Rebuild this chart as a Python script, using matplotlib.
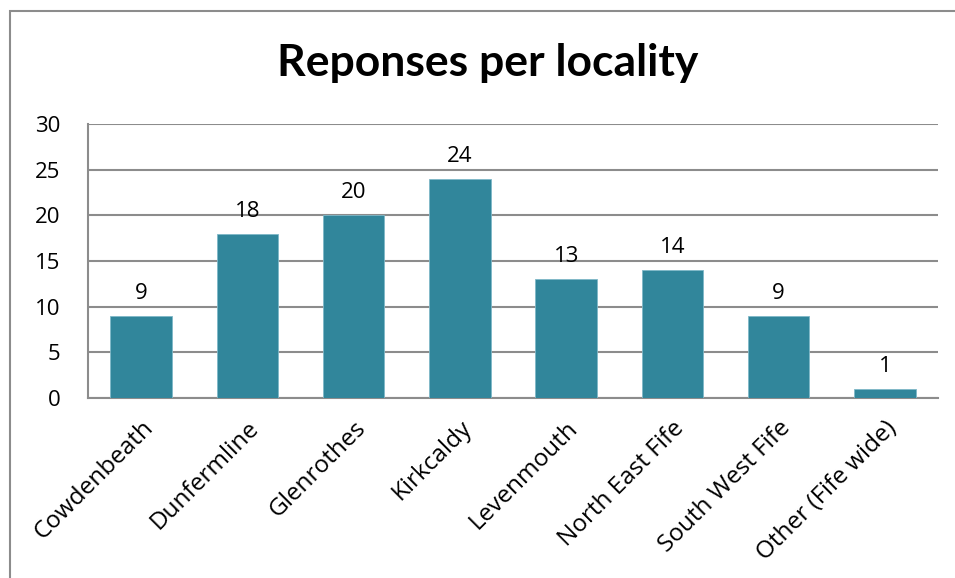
import matplotlib.pyplot as plt
from matplotlib.patches import Rectangle

plt.rcParams['font.family'] = ['Open Sans', 'DejaVu Sans']

localities = ["Cowdenbeath", "Dunfermline", "Glenrothes", "Kirkcaldy",
              "Levenmouth", "North East Fife", "South West Fife", "Other (Fife wide)"]
responses = [9, 18, 20, 24, 13, 14, 9, 1]
yticks = [0, 5, 10, 15, 20, 25, 30]

W, H = 955, 578
fig = plt.figure(figsize=(W / 100, H / 100), dpi=100)

# outer chart border (cut off at right/bottom like the screenshot)
fig.patches.append(Rectangle((10 / W, -0.05), 1.1, 1 - 11 / H + 0.05,
                             transform=fig.transFigure, fill=False,
                             edgecolor="#8c8c8c", linewidth=1.5))

ax = fig.add_axes([88 / W, 1 - 398 / H, (938 - 88) / W, (398 - 124) / H])
x = range(len(localities))
bars = ax.bar(x, responses, width=0.58, color="#31869b",
              edgecolor="#7fb8c8", linewidth=0.6, zorder=3)

for xi, v in zip(x, responses):
    ax.text(xi, v + 1.3, str(v), ha="center", va="bottom", fontsize=16)

ax.set_xlim(-0.5, len(localities) - 0.5)
ax.set_ylim(0, 30)
ax.set_yticks(yticks)
ax.set_yticklabels([str(t) for t in yticks], fontsize=16)
ax.set_xticks(list(x))
ax.set_xticklabels(localities, rotation=45, ha="right", rotation_mode="anchor",
                   fontsize=17.5)
ax.tick_params(axis="both", length=0)
ax.tick_params(axis="y", pad=20)
ax.tick_params(axis="x", pad=13)
ax.yaxis.grid(True, color="#8c8c8c", linewidth=1.5, zorder=0)
for s in ["top", "right"]:
    ax.spines[s].set_visible(False)
for s in ["left", "bottom"]:
    ax.spines[s].set_color("#8c8c8c")
    ax.spines[s].set_linewidth(1.5)

fig.text(488 / W, 1 - 63 / H, "Reponses per locality", ha="center", va="center",
         fontsize=32, fontweight="bold", family=["Lato", "DejaVu Sans"])

fig.savefig("out.png", dpi=100)
